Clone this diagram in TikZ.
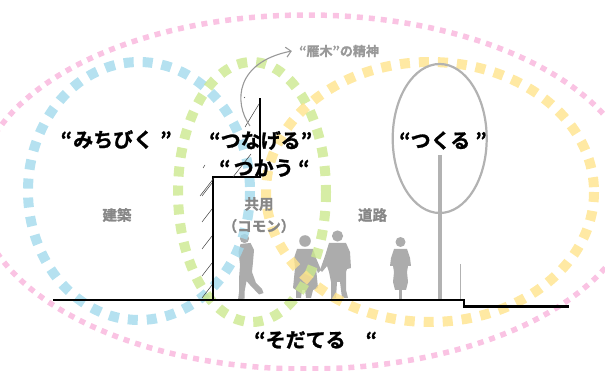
\documentclass[tikz,border=0pt]{standalone}
\usepackage{fontspec}
\newfontfamily\jp{Noto Sans CJK JP}[BoldFont={Noto Sans CJK JP Bold}, BoldFeatures={FakeBold=1.3}]
\usetikzlibrary{arrows.meta}
\definecolor{dotblue}{RGB}{163,218,236}
\definecolor{dotgreen}{RGB}{204,232,142}
\definecolor{dotyellow}{RGB}{255,228,140}
\definecolor{dotpink}{RGB}{249,185,222}
\definecolor{figgray}{RGB}{172,172,172}
\definecolor{labelgray}{RGB}{135,135,135}
\definecolor{treegray}{RGB}{178,178,178}
\tikzset{
  zone/.style={line width=10pt, dash pattern=on 10pt off 9pt, opacity=0.8},
  outerzone/.style={line width=5.5pt, dash pattern=on 6pt off 6pt, color=dotpink, opacity=0.85},
  keyword/.style={font=\jp\bfseries\fontsize{20}{22}\selectfont, text=black, inner sep=0pt, anchor=west},
  arealabel/.style={font=\jp\bfseries\fontsize{14.5}{16}\selectfont, text=labelgray, inner sep=0pt},
  silhouette/.style={fill=figgray, draw=none},
  groundline/.style={line width=2.4pt, black},
  hatch/.style={line width=0.5pt, black!75},
}
\begin{document}
\begin{tikzpicture}[x=1pt,y=-1pt]
\useasboundingbox (0,0) rectangle (605,371);
\begin{scope}
\clip (0,0) rectangle (605,371);

% pedestrians and cyclist
\fill[silhouette] (244.5,238.5) circle (4.6);
\fill[silhouette] (240.5,244) -- (250.5,243) -- (254,250) -- (253,262) -- (252,272)
  -- (256,283) -- (262,289) -- (263.5,293) -- (259,294.5) -- (250,285) -- (246.5,281)
  -- (244.5,292) -- (244.5,298.5) -- (238,300) -- (239,292) -- (239,279) -- (240,265)
  -- (238.5,252) -- cycle;

\fill[silhouette] (305,241) circle (5.8);
\fill[silhouette] (297,249) -- (313,249) -- (316,258) -- (321,270) -- (318,273)
  -- (316,268) -- (318,288) -- (313,290) -- (311,298) -- (306,298) -- (305,290)
  -- (302,290) -- (301,298) -- (296,298) -- (296,290) -- (293,288) -- (295,268)
  -- (294,258) -- cycle;
\fill[silhouette] (337.5,236) circle (5.6);
\fill[silhouette] (329,243) -- (346,243) -- (350,252) -- (351,268) -- (347,269)
  -- (346,272) -- (346,290) -- (348,298) -- (342,298) -- (340,282) -- (337,282)
  -- (336,298) -- (331,299) -- (331,282) -- (329,272) -- (327,266) -- (322,272)
  -- (320,270) -- (325,256) -- cycle;

\fill[silhouette] (400.5,242) circle (5);
\fill[silhouette] (394,249) -- (407,249) -- (410,258) -- (411,266) -- (408,266)
  -- (407,272) -- (408,282) -- (406,290) -- (395,290)
  -- (393,282) -- (394,272) -- (393,266) -- (390,266) -- (391,258) -- cycle;
\draw[figgray, line width=3pt] (400.5,284) -- (400.5,300);

% overlapping dotted zones
\draw[outerzone] (307,192) ellipse [x radius=330, y radius=177];
\draw[zone, dotblue] (139,191) ellipse [x radius=111, y radius=129];
\draw[zone, dotgreen] (252,192) ellipse [x radius=74, y radius=130];
\draw[zone, dotyellow] (430,192) ellipse [x radius=164, y radius=130];

% building section with hatching
\coordinate (wallbase) at (213,300);
\coordinate (stepinner) at (213,177.5);
\coordinate (stepouter) at (260,177.5);
\coordinate (walltop) at (260,98);
\draw[groundline, line width=2pt] (wallbase) -- (stepinner) -- (stepouter) -- (walltop);
\foreach \yy in {183,209,236,263,285}
  \draw[hatch] (202,\yy+13) -- (212,\yy);
\draw[hatch] (200,196) -- (214,178);
\draw[hatch] (203,168) -- (205,165);
\draw[hatch] (233,177) -- (251,154);
\draw[hatch] (245,127) -- (259,104);
\draw[hatch] (244,98) -- (245,97);

% ground with curb step
\coordinate (groundwest) at (53,300);
\coordinate (curbtop) at (464,300);
\coordinate (curbfoot) at (464,306.5);
\coordinate (groundeast) at (569,306.5);
\draw[groundline] (groundwest) -- (curbtop) -- (curbfoot) -- (groundeast);

% street tree and post
\draw[treegray, line width=2.2pt] (439.7,138.5) ellipse [x radius=47, y radius=74.5];
\coordinate (trunktop) at (440,155);
\coordinate (trunkfoot) at (440,299);
\draw[treegray, line width=3.3pt] (trunktop) -- (trunkfoot);
\coordinate (posttop) at (460.7,264);
\coordinate (postfoot) at (460.7,299);
\draw[treegray, line width=1.2pt] (posttop) -- (postfoot);

% keywords
\node[keyword] (michibiku) at (60.5,139.5) {“\hspace{1pt}みちびく\hspace{7pt}”};
\node[keyword] (tsunageru) at (209,140.5) {“つなげる”};
\node[keyword] (tsukau) at (219,168) {“\hspace{3pt}つかう “};
\node[keyword] (tsukuru) at (399,140.5) {“つくる\hspace{5pt}”};
\node[keyword] (sodateru) at (254,340) {“そだてる　“};

% area labels
\node[arealabel] (kenchiku) at (117,215) {建築};
\node[arealabel] (kyouyou) at (259,204) {共用};
\node[arealabel] (common) at (259,226) {（コモン）};
\node[arealabel] (douro) at (372.5,215) {道路};

% spirit of the gangi arcade
\node[arealabel, text=labelgray!85, font=\jp\bfseries\fontsize{13}{15}\selectfont] (ganki) at (339,51) {“雁木”の精神};
\coordinate (arrowstart) at (250,126);
\draw[labelgray!85, line width=1.1pt, -{Straight Barb[length=5pt, width=10pt]}]
  (arrowstart) .. controls (233,102) and (236,62) .. ([xshift=-7pt]ganki.west);
\end{scope}
\end{tikzpicture}
\end{document}
